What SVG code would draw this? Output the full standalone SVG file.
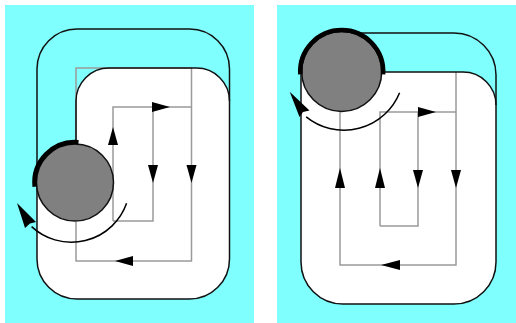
<svg xmlns="http://www.w3.org/2000/svg" width="516" height="323" viewBox="0 0 516 323">
<style>
.bg{fill:#80ffff;stroke:none}
.outer{fill:#fff;stroke:none}
.outline{fill:none;stroke:#111;stroke-width:1.5}
.pocket{fill:#80ffff;stroke:none}
.edge{fill:none;stroke:#111;stroke-width:1.5}
.path{fill:none;stroke:#9a9a9a;stroke-width:1.5}
.head{fill:#000;stroke:none}
.robot{fill:#808080;stroke:#111;stroke-width:1.5}
.thick{fill:none;stroke:#000;stroke-width:4.5}
.sweep{fill:none;stroke:#000;stroke-width:1.5}
</style>
<rect width="516" height="323" fill="#fff"/>
<g id="left-panel">
  <rect class="bg" x="5" y="5" width="249" height="318"/>
  <rect class="outer" x="37" y="29" width="192.5" height="270" rx="40" ry="40"/>
  <path class="pocket" d="M37,184 V69 A40,40 0 0 1 77,29 H189.5 A40,40 0 0 1 229.5,69 V101 A33,33 0 0 0 196.5,68 H109 A33,33 0 0 0 76,101 V184 Z"/>
  <rect class="outline" x="37" y="29" width="192.5" height="270" rx="40" ry="40"/>
  <g id="left-connectors">
    <path class="path" d="M76,222 V261 H191.5 V68 H76 V143"/>
    <path class="path" d="M113,221 V107 H191.5 M113,221 H153 V107"/>
    <polygon class="head" points="113,127 108,145 118,145"/>
    <polygon class="head" points="170,107 152,102 152,112"/>
    <polygon class="head" points="153,183 148,165 158,165"/>
    <polygon class="head" points="191.5,183 186.5,165 196.5,165"/>
    <polygon class="head" points="115,261 133,256 133,266"/>
  </g>
  <path class="edge" d="M76,143 V101 A33,33 0 0 1 109,68 H196.5 A33,33 0 0 1 229.5,101"/>
  <g id="left-robot">
    <circle class="robot" cx="75" cy="182.5" r="38.5"/>
    <path class="thick" d="M34.7,186.7 A40.5,40.5 0 0 1 78.5,142.2"/>
    <path class="sweep" d="M126.6,203.3 A58.5,58.5 0 0 1 31.6,226.6"/>
    <polygon class="head" points="17,203 36,222 30,223.5 25,228"/>
  </g>
</g>
<g id="right-panel">
  <rect class="bg" x="277" y="5" width="239" height="318"/>
  <rect class="outer" x="301" y="33" width="195" height="271" rx="42" ry="42"/>
  <path class="pocket" d="M301,72 V75 A42,42 0 0 1 343,33 H454 A42,42 0 0 1 496,75 V105 A33,33 0 0 0 463,72 Z"/>
  <rect class="outline" x="301" y="33" width="195" height="271" rx="42" ry="42"/>
  <g id="right-connectors">
    <path class="path" d="M340,111 V265 H456 V72"/>
    <path class="path" d="M380,226 V112 H456 M380,226 H418 V112"/>
    <polygon class="head" points="340,168 335,188 345,188"/>
    <polygon class="head" points="380,168 375,188 385,188"/>
    <polygon class="head" points="418,188 413,170 423,170"/>
    <polygon class="head" points="456,188 451,170 461,170"/>
    <polygon class="head" points="436,112 418,107 418,117"/>
    <polygon class="head" points="381,265 400,260 400,270"/>
  </g>
  <path class="edge" d="M381,72 H463 A33,33 0 0 1 496,105"/>
  <g id="right-robot">
    <circle class="robot" cx="341.7" cy="71.5" r="40"/>
    <path class="thick" d="M300.3,74.4 A41.5,41.5 0 1 1 383.1,74.4"/>
    <path class="sweep" d="M399.6,92.7 A60,60 0 0 1 306.2,116.8"/>
    <polygon class="head" points="289.7,91.7 309.5,110.5 303,112 299.5,117"/>
  </g>
</g>
</svg>
